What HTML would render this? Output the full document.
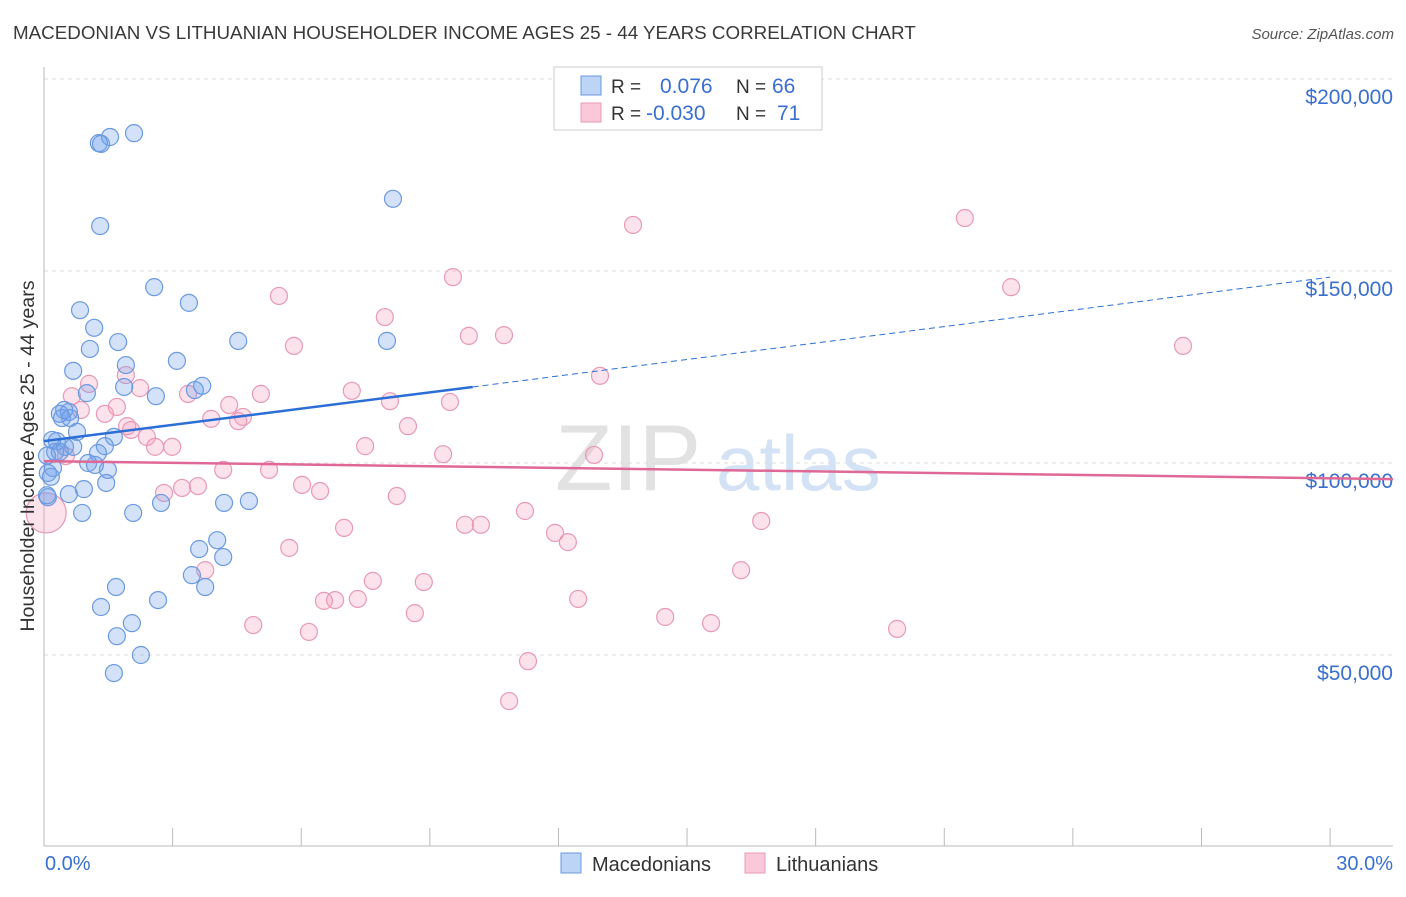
<!DOCTYPE html>
<html><head><meta charset="utf-8"><style>
body{margin:0;background:#fff;font-family:"Liberation Sans",sans-serif}
svg text{font-family:"Liberation Sans",sans-serif}
</style></head><body>
<svg id="chart" width="1406" height="892" xmlns="http://www.w3.org/2000/svg">
<text x="13" y="39" font-size="18.8" fill="#3a3a3a">MACEDONIAN VS LITHUANIAN HOUSEHOLDER INCOME AGES 25 - 44 YEARS CORRELATION CHART</text>
<text x="1394" y="39" font-size="15" fill="#555" text-anchor="end" font-style="italic">Source: ZipAtlas.com</text>
<g>
<text x="555" y="490" font-size="94" font-family="Liberation Serif,serif" fill="#e2e2e2">ZIP</text>
<text x="716" y="490" font-size="78" fill="#d3e2f4">atlas</text>
</g>
<g id="grid"></g>
<g id="axes"></g>
<g id="marks"></g>
<text transform="translate(34,456) rotate(-90)" font-size="19.7" fill="#333" text-anchor="middle">Householder Income Ages 25 - 44 years</text>
<g>
<rect x="554" y="67" width="268" height="63" fill="#fff" stroke="#ccc"/>
<rect x="581" y="76" width="20" height="19" fill="#bcd4f5" stroke="#6b9ae0"/>
<rect x="581" y="103" width="20" height="19" fill="#fac8d8" stroke="#e89ab5"/>
<text x="611" y="93" font-size="19" fill="#333">R =</text><text x="660" y="93" font-size="21" fill="#3a6fd0">0.076</text>
<text x="736" y="93" font-size="19" fill="#333">N =</text><text x="772" y="93" font-size="21" fill="#3a6fd0">66</text>
<text x="611" y="120" font-size="19" fill="#333">R =</text><text x="646" y="120" font-size="21" fill="#3a6fd0">-0.030</text>
<text x="736" y="120" font-size="19" fill="#333">N =</text><text x="777" y="120" font-size="21" fill="#3a6fd0">71</text>
</g>
<g>
<rect x="561" y="853" width="20" height="20" fill="#bcd4f5" stroke="#6b9ae0"/>
<text x="592" y="871" font-size="20" fill="#333">Macedonians</text>
<rect x="745" y="853" width="20" height="20" fill="#fac8d8" stroke="#e89ab5"/>
<text x="776" y="871" font-size="20" fill="#333">Lithuanians</text>
</g>
</svg>
<script>
const xTicksPct=[0,3,6,9,12,15,18,21,24,27,30];
const yTicks=[50,100,150,200];
const yTickLabels=["$50,000","$100,000","$150,000","$200,000"];
const macX=[1.28,1.54,2.10,1.33,8.14,1.31,2.57,3.38,0.84,1.17,4.53,8.00,1.73,1.07,3.10,1.91,0.68,1.87,3.69,3.52,2.61,1.00,0.47,0.58,0.42,0.61,0.77,1.63,0.30,0.49,1.42,0.68,0.26,0.37,1.26,1.03,1.19,0.21,1.49,0.09,0.16,1.45,0.93,0.58,0.09,4.20,2.73,4.78,0.89,2.08,4.04,3.62,4.18,3.45,1.68,3.76,2.66,1.33,2.05,1.70,2.26,1.63,0.07,0.19,0.07,0.37];
const macY=[183.3,184.9,185.9,183.1,168.8,161.7,145.8,141.7,139.8,135.2,131.8,131.8,131.5,129.7,126.6,125.5,124.0,119.8,120.1,119.0,117.4,118.2,113.8,113.3,111.7,111.7,108.1,106.8,105.7,104.2,104.4,104.2,102.9,102.9,102.6,100.0,99.5,98.7,98.2,97.4,96.4,94.8,93.2,91.9,91.1,89.6,89.6,90.1,87.0,87.0,79.9,77.6,75.5,70.8,67.7,67.7,64.3,62.5,58.3,54.9,50.0,45.3,101.9,106.0,91.6,112.8];
const litX=[21.48,13.74,9.54,5.48,22.56,10.73,9.91,5.83,7.95,26.57,12.97,1.91,1.05,2.24,7.18,5.06,3.36,0.65,8.07,9.47,1.70,4.32,0.86,1.42,4.64,3.90,4.53,8.49,1.94,2.03,2.40,2.99,2.59,7.49,9.31,12.83,0.51,4.18,5.25,6.02,6.44,3.22,3.59,2.80,8.23,11.22,16.73,7.00,9.82,10.19,11.92,12.22,5.72,16.26,3.76,7.67,8.86,6.79,7.32,6.53,12.46,8.65,14.49,15.56,4.88,6.18,19.90,11.29,10.85,0.05];
const litY=[163.8,162.0,148.4,143.5,145.8,133.3,133.1,130.5,138.0,130.5,122.7,122.9,120.6,119.5,118.8,118.0,118.0,117.4,116.1,115.9,114.6,115.1,113.8,112.8,112.0,111.5,110.9,109.6,109.6,108.6,106.8,104.2,104.2,104.4,102.3,102.1,101.8,98.2,98.2,94.3,92.7,93.5,94.0,92.2,91.4,87.5,84.9,83.1,83.9,83.9,81.8,79.4,77.9,72.1,72.1,69.3,69.0,64.3,64.6,64.1,64.6,60.9,59.9,58.3,57.8,56.0,56.8,48.4,38.0,87.0];
const litBig=[69];
const macTrend=[[0,105.7],[10,119.8],[30,148.4]];
const litTrend=[[0,100.5],[31.47,95.8]];

const X=v=>44+v*42.87, Y=v=>847-v*3.84;
const NS="http://www.w3.org/2000/svg";
function mk(tag,attrs,parent){const e=document.createElementNS(NS,tag);for(const k in attrs)e.setAttribute(k,attrs[k]);parent.appendChild(e);return e;}
const grid=document.getElementById('grid'),axes=document.getElementById('axes'),marks=document.getElementById('marks');
yTicks.forEach((t,i)=>{
 const l=mk('line',{x1:44,x2:1393,y1:Y(t),y2:Y(t),stroke:'#ddd','stroke-dasharray':'4,4'},grid);
 
 
 const tx=mk('text',{x:1393,y:Y(t)+25,'font-size':21,fill:'#3a6fd0','text-anchor':'end'},axes);
 tx.textContent=yTickLabels[i];
 
 
});
const ya=mk('line',{x1:44,x2:44,y1:67,y2:846,stroke:'#bbb'},axes);


const xa=mk('line',{x1:44,x2:1393,y1:846,y2:846,stroke:'#bbb'},axes);


xTicksPct.forEach(t=>{
 const l=mk('line',{x1:X(t),x2:X(t),y1:828,y2:846,stroke:'#bbb'},axes);
 
 
});
const xl0=mk('text',{x:45,y:870,'font-size':20,fill:'#3a6fd0'},axes);xl0.textContent=xTicksPct[0].toFixed(1)+'%';


const xl1=mk('text',{x:1393,y:870,'font-size':20,fill:'#3a6fd0','text-anchor':'end'},axes);xl1.textContent=xTicksPct[xTicksPct.length-1].toFixed(1)+'%';



litX.forEach((v,i)=>{
 const c=mk('circle',{cx:X(v),cy:Y(litY[i]),r:litBig.includes(i)?20:8.5,fill:'rgba(244,160,190,0.3)',stroke:'#e89ab5','stroke-width':1.2},marks);
 
 
});
macX.forEach((v,i)=>{
 const c=mk('circle',{cx:X(v),cy:Y(macY[i]),r:8.5,fill:'rgba(110,160,235,0.3)',stroke:'#6b9ae0','stroke-width':1.2},marks);
 
 
});
const mt1=mk('line',{x1:X(macTrend[0][0]),y1:Y(macTrend[0][1]),x2:X(macTrend[1][0]),y2:Y(macTrend[1][1]),stroke:'#2b6fd6','stroke-width':2.5},marks);


const mt2=mk('line',{x1:X(macTrend[1][0]),y1:Y(macTrend[1][1]),x2:X(macTrend[2][0]),y2:Y(macTrend[2][1]),stroke:'#2b6fd6','stroke-width':1,'stroke-dasharray':'6,4'},marks);


const lt=mk('line',{x1:X(litTrend[0][0]),y1:Y(litTrend[0][1]),x2:X(litTrend[1][0]),y2:Y(litTrend[1][1]),stroke:'#e06896','stroke-width':2.5},marks);


</script>
</body></html>
